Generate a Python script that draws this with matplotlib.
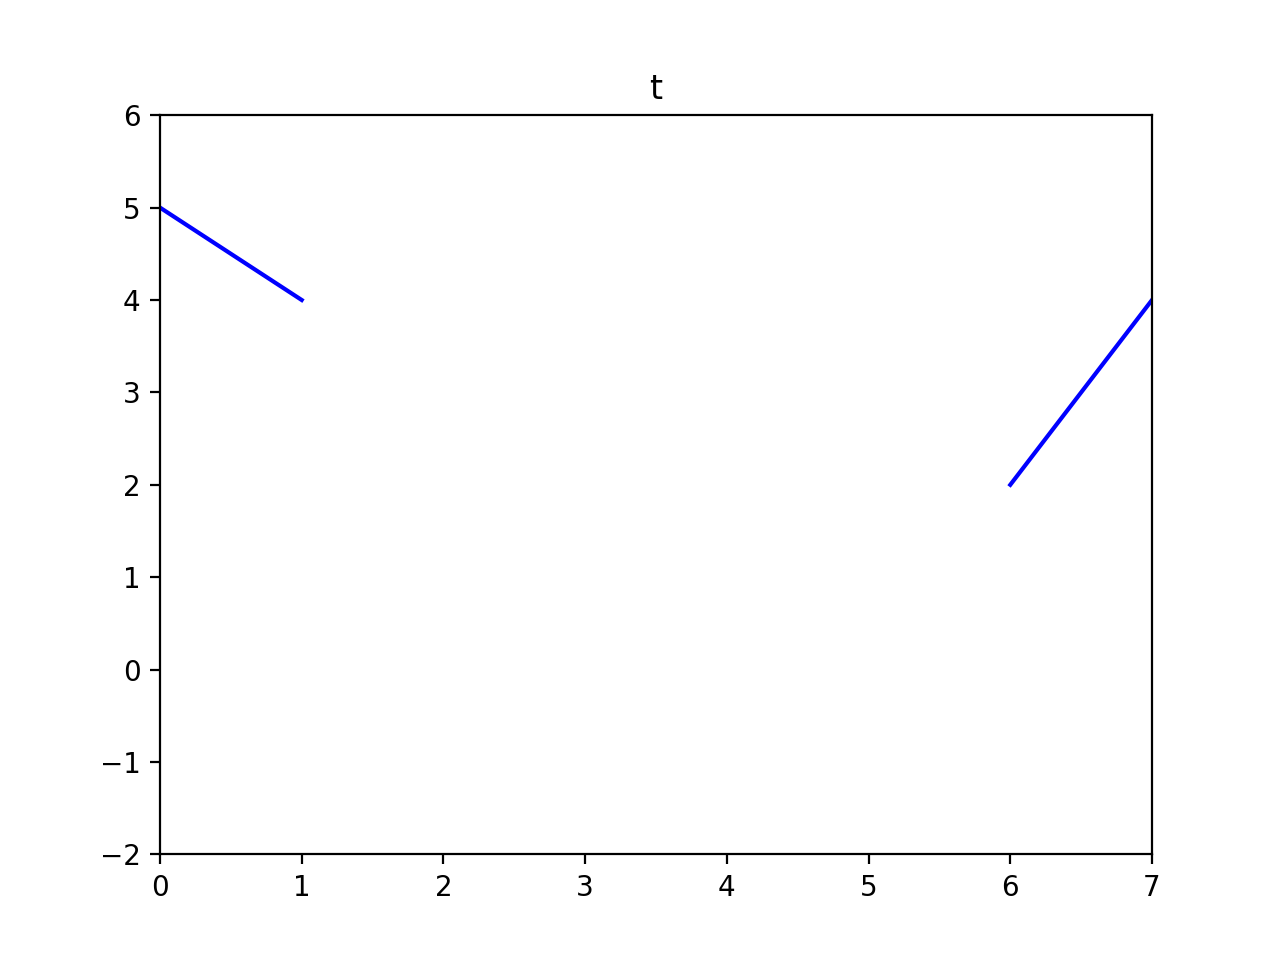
import numpy as np
import matplotlib
matplotlib.use("Agg")
import matplotlib.pyplot as plt

x = [0, 1, 2, 3, 4, 5, 6, 7]
y = [5, 4, np.nan, np.nan, np.nan, np.nan, 2, 4]
title = "t"

fig, ax = plt.subplots(figsize=(6.4, 4.8), dpi=200)
ax.plot(x, y, color="blue")
ax.set_xlim(0, 7)
ax.set_ylim(-2, 6)
ax.set_title(title)
fig.savefig("out.png", dpi=200)
